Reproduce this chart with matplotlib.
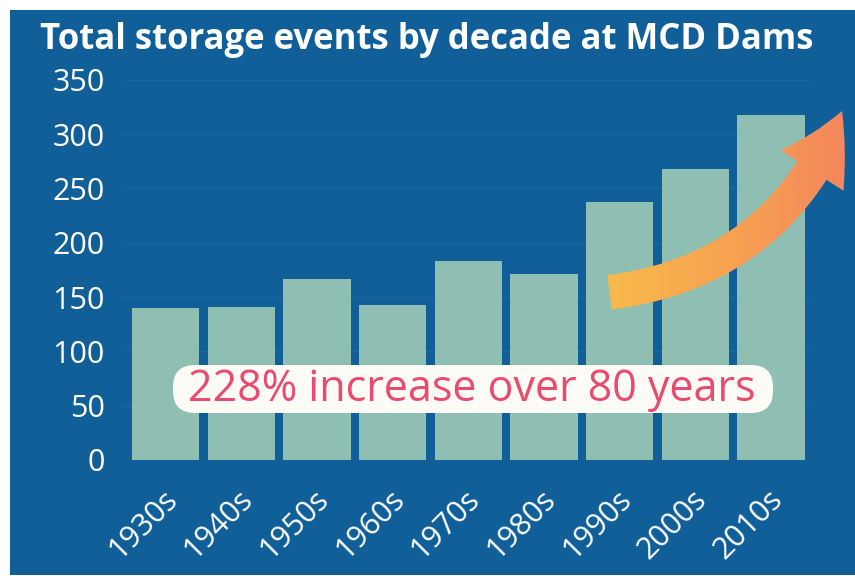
import matplotlib
matplotlib.use("Agg")
import matplotlib.pyplot as plt
import matplotlib.transforms as mtransforms
from matplotlib.patches import Rectangle, FancyArrowPatch, FancyBboxPatch
from matplotlib.colors import LinearSegmentedColormap
import numpy as np

BG, BAR, PINK = "#115f99", "#8fbfb2", "#ea4a6e"
plt.rcParams.update({"font.family": ["Open Sans", "DejaVu Sans"]})

decades = ["1930s", "1940s", "1950s", "1960s", "1970s", "1980s", "1990s", "2000s", "2010s"]
events = [140, 141, 167, 143, 183, 171, 238, 268, 318]
yticks = [0, 50, 100, 150, 200, 250, 300, 350]

fig = plt.figure(figsize=(8.55, 5.83), dpi=100, facecolor="white")
fig.patches.append(Rectangle((0.012, 0.014), 0.988, 0.968, transform=fig.transFigure,
                             facecolor=BG, edgecolor="none", zorder=-5))

ax = fig.add_axes([0.145, 0.211, 0.801, 0.652])
ax.set_zorder(2)
ax.set_facecolor("none")
x = np.arange(len(decades))
ax.bar(x, events, width=0.89, color=BAR, zorder=2)
ax.set_yticks(yticks)
ax.set_yticklabels([str(v) for v in yticks], fontsize=22, color="white")
ax.set_xticks(x)
ax.set_xticklabels(decades, fontsize=22, color="white", rotation=45,
                   ha="right", va="center", rotation_mode="anchor")
ax.tick_params(axis="y", length=0, pad=14)
ax.tick_params(axis="x", length=0, pad=25)
shift = mtransforms.ScaledTranslation(0.07, 0, fig.dpi_scale_trans)
for lab in ax.get_xticklabels():
    lab.set_transform(lab.get_transform() + shift)
for s in ax.spines.values():
    s.set_visible(False)
ax.grid(axis="y", color="white", alpha=0.05, lw=1, zorder=1)

fig.text(0.047, 0.931, "Total storage events by decade at MCD Dams", fontsize=25,
         weight="bold", color="white", va="center", ha="left", zorder=3)

# rising arrow with yellow -> salmon gradient
arr = FancyArrowPatch((0.705, 0.44), (1.05, 0.925), transform=ax.transAxes,
                      connectionstyle="arc3,rad=0.3",
                      arrowstyle="simple,head_width=2.7,head_length=2.4,tail_width=1.25",
                      mutation_scale=20, facecolor="none", edgecolor="none",
                      clip_on=False, zorder=4)
ax.add_patch(arr)
grad = np.linspace(0, 1, 256).reshape(1, -1)
cmap = LinearSegmentedColormap.from_list("warm", ["#f8bd4a", "#f7a052", "#f47b62"])
im = ax.imshow(grad, cmap=cmap, extent=(0.68, 1.12, 0.3, 1.0), transform=ax.transAxes,
               aspect="auto", zorder=4)
im.set_clip_box(fig.bbox)
im.set_clip_path(arr)
ax.set_xlim(-0.55, 8.5)
ax.set_ylim(0, 350)

# callout
box = FancyBboxPatch((1.73, 1.70), 6.0, 0.48, boxstyle="round,pad=0,rounding_size=0.22",
                     transform=fig.dpi_scale_trans, facecolor="#fdfbf5", edgecolor="none",
                     zorder=5)
fig.patches.append(box)
fig.text(4.72, 1.93, "228% increase over 80 years", transform=fig.dpi_scale_trans,
         fontsize=31, color=PINK, ha="center", va="center", zorder=6)

fig.savefig("out.png", dpi=100, facecolor="white")
